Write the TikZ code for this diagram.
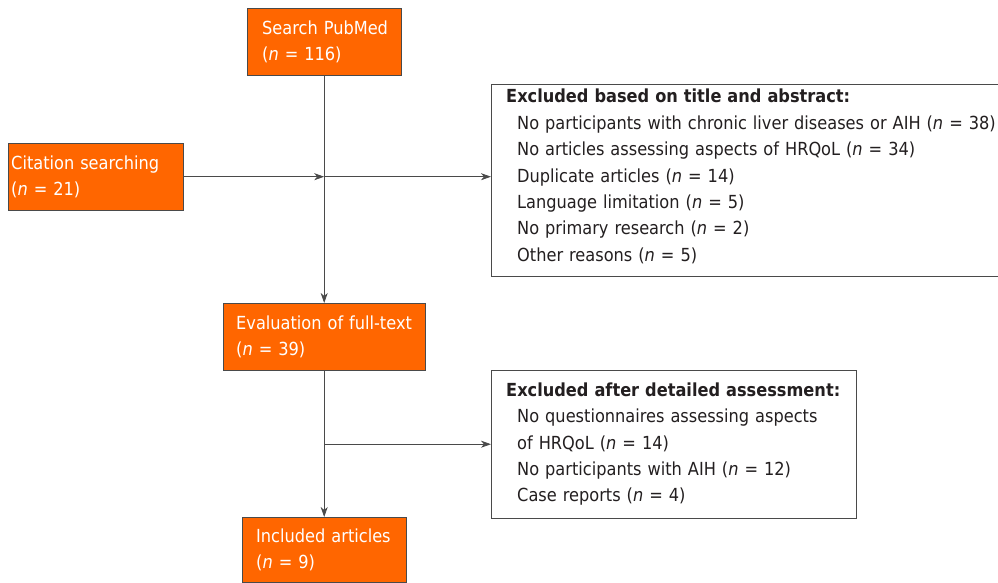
\documentclass[tikz,border=0pt]{standalone}
\usepackage{fontspec}
\setmainfont{DejaVu Sans Condensed}
\usetikzlibrary{arrows.meta}

\definecolor{boxorange}{HTML}{FF6600}
\definecolor{linegray}{HTML}{4A4A4A}
\definecolor{textdark}{HTML}{231F20}

\begin{document}
\begin{tikzpicture}[x=1pt,y=-1pt,
    font=\fontsize{18}{26.4}\selectfont,
    obox/.style={draw=linegray, fill=boxorange, text=white, align=left,
      anchor=north west, minimum height=67pt, inner ysep=0pt},
    wbox/.style={draw=linegray, fill=white, text=textdark, align=left,
      anchor=north west, inner ysep=0pt},
    flow/.style={draw=linegray, line width=0.8pt, -{Stealth[length=10pt,width=7pt,inset=3pt]}}]
    \useasboundingbox (0,0) rectangle (998,582); % page size as reference
    \node[obox, inner xsep=15pt, text width=124pt] (search) at (247,8)
      {\mbox{Search PubMed}\\(\textit{n} = 116)}; % database
    \node[obox, inner xsep=3pt, text width=169pt] (cite) at (8,143)
      {\mbox{Citation searching}\\(\textit{n} = 21)}; % other source
    \node[obox, inner xsep=13pt, text width=176pt] (eval) at (223,303)
      {\mbox{Evaluation of full-text}\\(\textit{n} = 39)}; % full text
    \node[obox, inner xsep=14pt, text width=136pt, minimum height=65pt] (incl) at (242,517)
      {\mbox{Included articles}\\(\textit{n} = 9)}; % final set
    \node[wbox, inner xsep=15pt, text width=477pt, minimum height=192pt] (excl1) at (491,84)
      {\mbox{\textbf{Excluded based on title and abstract:}}\\
       \mbox{\hspace*{11pt}No participants with chronic liver diseases or AIH (\textit{n} = 38)}\\
       \mbox{\hspace*{11pt}No articles assessing aspects of HRQoL (\textit{n} = 34)}\\
       \hspace*{11pt}Duplicate articles (\textit{n} = 14)\\
       \hspace*{11pt}Language limitation (\textit{n} = 5)\\
       \hspace*{11pt}No primary research (\textit{n} = 2)\\
       \hspace*{11pt}Other reasons (\textit{n} = 5)\rule[-10pt]{0pt}{1pt}}; % first exclusions
    \node[wbox, inner xsep=15pt, text width=335pt, minimum height=148pt] (excl2) at (491,370)
      {\mbox{\textbf{Excluded after detailed assessment:}}\\
       \mbox{\hspace*{11pt}No questionnaires assessing aspects}\\
       \hspace*{11pt}of HRQoL (\textit{n} = 14)\\
       \mbox{\hspace*{11pt}No participants with AIH (\textit{n} = 12)}\\
       \hspace*{11pt}Case reports (\textit{n} = 4)}; % second exclusions
    \coordinate (j1) at (search.south |- cite.east); % join point
    \coordinate (j2) at (eval.south |- excl2.west); % join point
    \draw[flow] (search.south) -- (eval.north);
    \draw[flow] (cite.east) -- (j1);
    \draw[flow] (j1) -- (j1 -| excl1.west);
    \draw[flow] (eval.south) -- (incl.north);
    \draw[flow] (j2) -- (excl2.west);
\end{tikzpicture}
\end{document}
